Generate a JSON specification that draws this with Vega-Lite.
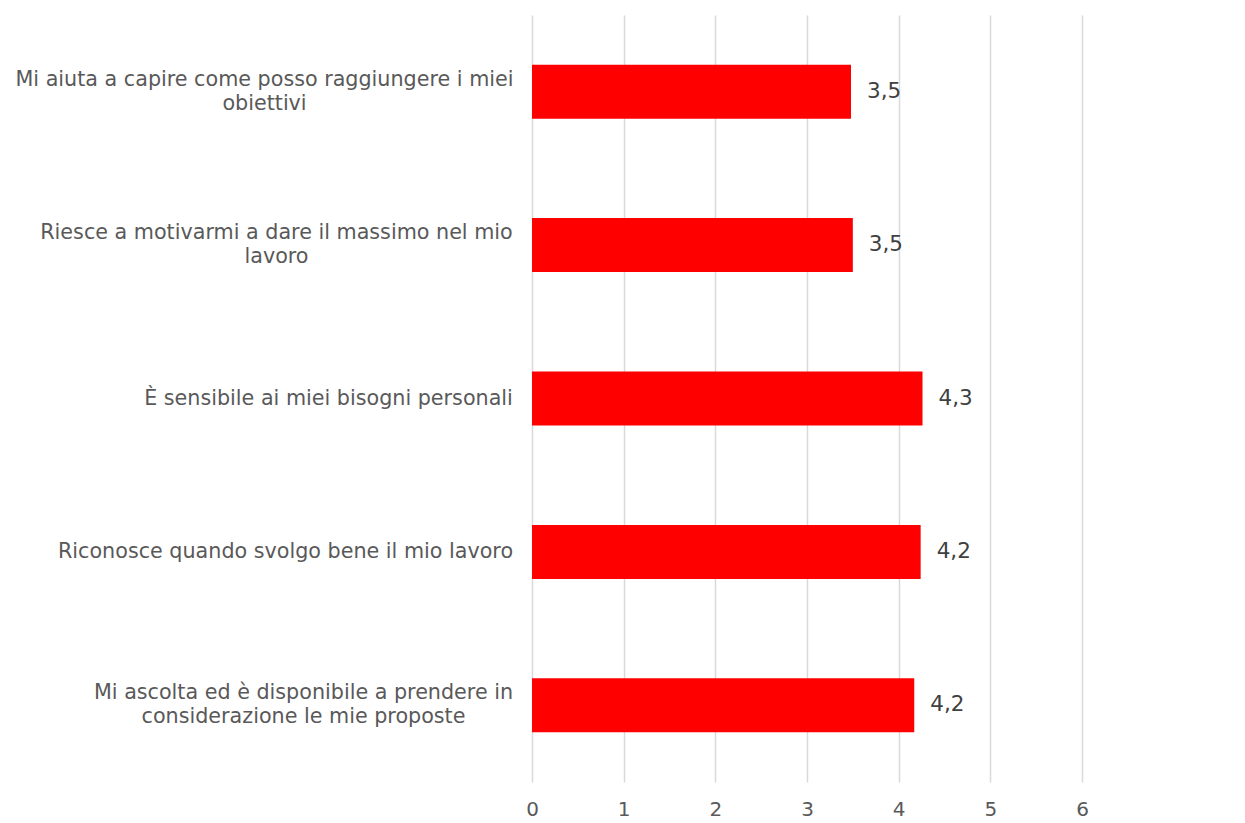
{
  "$schema": "https://vega.github.io/schema/vega-lite/v6.json",
  "autosize": {"type": "none"},
  "width": 550,
  "height": 767,
  "padding": {"left": 532, "top": 15, "right": 163, "bottom": 41},
  "background": "white",
  "config": {
    "locale": {"number": {"decimal": ",", "thousands": ".", "grouping": [3], "currency": ["", " €"]}},
    "view": {"stroke": null},
    "font": "DejaVu Sans"
  },
  "data": {
    "values": [
      {"item": "Mi aiuta a capire come posso raggiungere i miei\nobiettivi", "score": 3.48},
      {"item": "Riesce a motivarmi a dare il massimo nel mio\nlavoro", "score": 3.5},
      {"item": "È sensibile ai miei bisogni personali", "score": 4.26},
      {"item": "Riconosce quando svolgo bene il mio lavoro", "score": 4.24},
      {"item": "Mi ascolta ed è disponibile a prendere in\nconsiderazione le mie proposte", "score": 4.17}
    ]
  },
  "encoding": {
    "y": {
      "field": "item", "type": "nominal", "sort": null,
      "scale": {"paddingInner": 0.648, "paddingOuter": 0.324},
      "axis": {
        "title": null, "domain": false, "ticks": false, "grid": false,
        "labelExpr": "split(datum.value, '\\n')",
        "labelOffset": {"condition": {"test": "indexof(datum.value, '\\n') >= 0", "value": -12}, "value": 0},
        "labelPadding": {"condition": [
          {"test": "indexof(datum.value, 'Mi aiuta') == 0", "value": 268},
          {"test": "indexof(datum.value, 'Riesce') == 0", "value": 256},
          {"test": "indexof(datum.value, 'sensibile') >= 0", "value": 204},
          {"test": "indexof(datum.value, 'Riconosce') == 0", "value": 247},
          {"test": "indexof(datum.value, 'Mi ascolta') == 0", "value": 229}
        ], "value": 20},
        "labelAlign": "center",
        "labelFont": "DejaVu Sans", "labelFontSize": 20.7, "labelColor": "#595959",
        "labelLimit": 600, "labelLineHeight": 24
      }
    },
    "x": {
      "field": "score", "type": "quantitative",
      "scale": {"domain": [0, 6], "nice": false},
      "axis": {
        "title": null, "domain": false, "ticks": false, "values": [0, 1, 2, 3, 4, 5, 6],
        "gridColor": "#d9d9d9", "gridWidth": 1.5, "labelFlush": false,
        "labelFont": "DejaVu Sans", "labelFontSize": 20, "labelColor": "#595959",
        "labelPadding": 17
      }
    }
  },
  "layer": [
    {"mark": {"type": "bar", "color": "#ff0000"}},
    {
      "mark": {"type": "text", "align": "left", "baseline": "middle", "dx": 16, "fontSize": 21.5, "color": "#404040", "font": "DejaVu Sans"},
      "encoding": {"text": {"field": "score", "type": "quantitative", "format": ".1f"}}
    }
  ]
}
